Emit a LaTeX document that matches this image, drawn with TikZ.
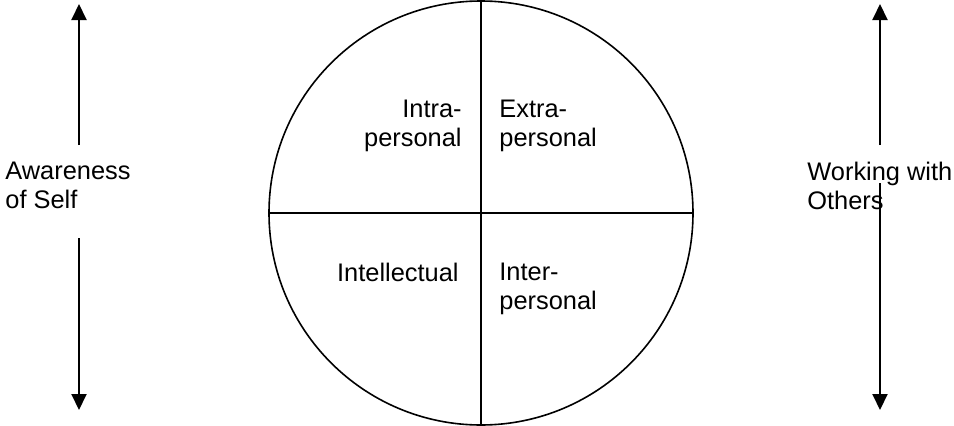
\documentclass[tikz,border=0pt]{standalone}
\usepackage{fontspec}
\setmainfont{Liberation Sans}
\usetikzlibrary{arrows.meta}

\begin{document}
\begin{tikzpicture}[x=0.5pt, y=0.5pt,
  font=\fontsize{12.7}{14.5}\selectfont,
  arr/.style={-{Triangle[length=8pt, width=7.5pt]}, line width=1pt},
  lbl/.style={inner sep=0pt, align=left},
  part/.style={line width=0.8pt}]

  \useasboundingbox (0,0) rectangle (954,425);

  % the wheel and its quarters
  \node[circle, draw, line width=0.8pt, minimum size=212pt, inner sep=0pt] (wheel) at (481,212) {};
  \draw[part] (wheel.north) -- (wheel.south);
  \draw[part] (wheel.west) -- (wheel.east);

  \node[lbl, align=right, anchor=north east] (intra) at (462,325) {Intra-\\personal};
  \node[lbl, anchor=north west] (extra) at (499,325) {Extra-\\personal};
  \node[lbl, align=right, anchor=north east] (intel) at (459,162) {Intellectual};
  \node[lbl, anchor=north west] (inter) at (499,162) {Inter-\\personal};

  % side scales
  \node[lbl, anchor=north west] (self) at (5,263) {Awareness\\of Self};
  \coordinate (selfTop) at (79,421);
  \coordinate (selfUp) at (79,280);
  \coordinate (selfDown) at (79,187);
  \coordinate (selfBot) at (79,15);
  \draw[arr] (selfUp) -- (selfTop);
  \draw[arr] (selfDown) -- (selfBot);

  \node[lbl, anchor=north west] (others) at (807,263) {Working with\\Others};
  \coordinate (othTop) at (880,421);
  \coordinate (othUp) at (880,280);
  \coordinate (othDown) at (880,242);
  \coordinate (othBot) at (880,15);
  \draw[arr] (othUp) -- (othTop);
  \draw[arr] (othDown) -- (othBot);
\end{tikzpicture}
\end{document}
